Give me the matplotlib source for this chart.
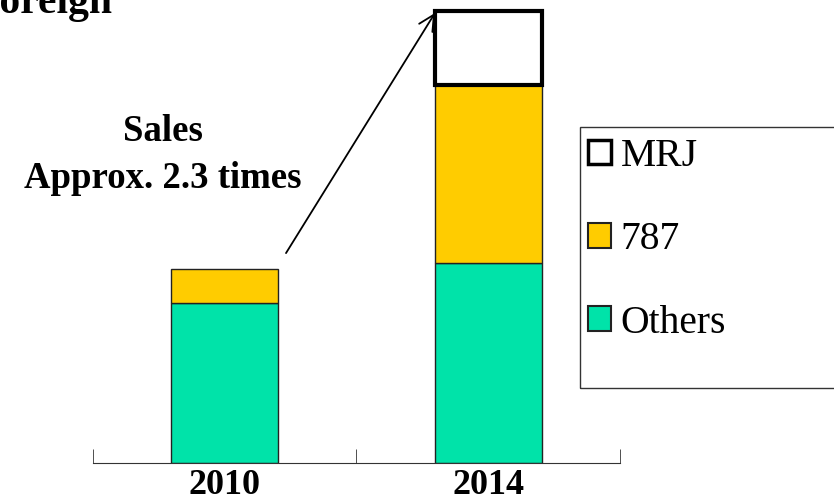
import matplotlib.pyplot as plt
from matplotlib.patches import Rectangle

# stacked sales, 2010 total = 100
years = ['2010', '2014']
others = [82.5, 103]
b787 = [17.5, 92]
mrj = [0, 38]

W, H = 834, 496
fig = plt.figure(figsize=(W / 100, H / 100), dpi=100)
plt.rcParams['font.family'] = ['Liberation Serif', 'DejaVu Serif']

base = 463
ax = fig.add_axes([92.5 / W, (H - base) / H, 528 / W, base / H])
ax.set_xlim(-0.5, 1.5)
ax.set_ylim(0, base / 1.94)

x = [0, 1]
w = 0.405
green, yellow = '#00E3A9', '#FFCC00'
b1 = ax.bar(x, others, w, color=green, edgecolor='#222222', lw=1, label='Others')
b2 = ax.bar(x, b787, w, bottom=others, color=yellow, edgecolor='#222222', lw=1, label='787')
bottoms = [o + s for o, s in zip(others, b787)]
b3 = ax.bar(x[1:], mrj[1:], w, bottom=bottoms[1:], color='white', edgecolor='black',
            lw=3, label='MRJ')

for s in ['top', 'left', 'right']:
    ax.spines[s].set_visible(False)
ax.spines['bottom'].set_color('#333333')
ax.set_yticks([])
ax.set_xticks(x)
ax.set_xticklabels(years, fontsize=26, fontweight='bold')
ax.tick_params(axis='x', length=0, pad=4)
ax.set_xticks([-0.5, 0.5, 1.5], minor=True)
ax.tick_params(axis='x', which='minor', direction='in', length=10, color='#333333')

# growth arrow
tot14 = bottoms[1] + mrj[1]
ax.annotate('', xy=(1 - w / 2, tot14 - 1), xytext=(0.233, 108.2),
            arrowprops=dict(arrowstyle='->', color='black', lw=1.3,
                            mutation_scale=28, shrinkA=0, shrinkB=0),
            annotation_clip=False)
fig.text(163 / W, 1 - 141 / H, 'Sales', ha='center', va='baseline',
         fontsize=26.5, fontweight='bold')
fig.text(163 / W, 1 - 188 / H, 'Approx. 2.3 times', ha='center', va='baseline',
         fontsize=26.5, fontweight='bold')

fig.text(112 / W, 1 - 13 / H, 'Foreign', ha='right', va='baseline',
         fontsize=30, fontweight='bold')

# legend box
fig.patches.append(Rectangle((580 / W, 1 - 388 / H), 300 / W, 261 / H,
                             transform=fig.transFigure, fill=False,
                             edgecolor='#333333', lw=1, clip_on=False))
leg = fig.legend([b3, b2, b1], ['MRJ', '787', 'Others'], loc='upper left',
                 bbox_to_anchor=(588 / W, 1 - 138 / H), frameon=False,
                 fontsize=28.5, handlelength=0.57, handleheight=0.57,
                 handletextpad=0.25, labelspacing=1.17, borderaxespad=0,
                 borderpad=0)
for h in leg.legend_handles:
    h.set_linewidth(1.5)
leg.legend_handles[0].set_linewidth(2.5)

fig.savefig('out.png', dpi=100)
